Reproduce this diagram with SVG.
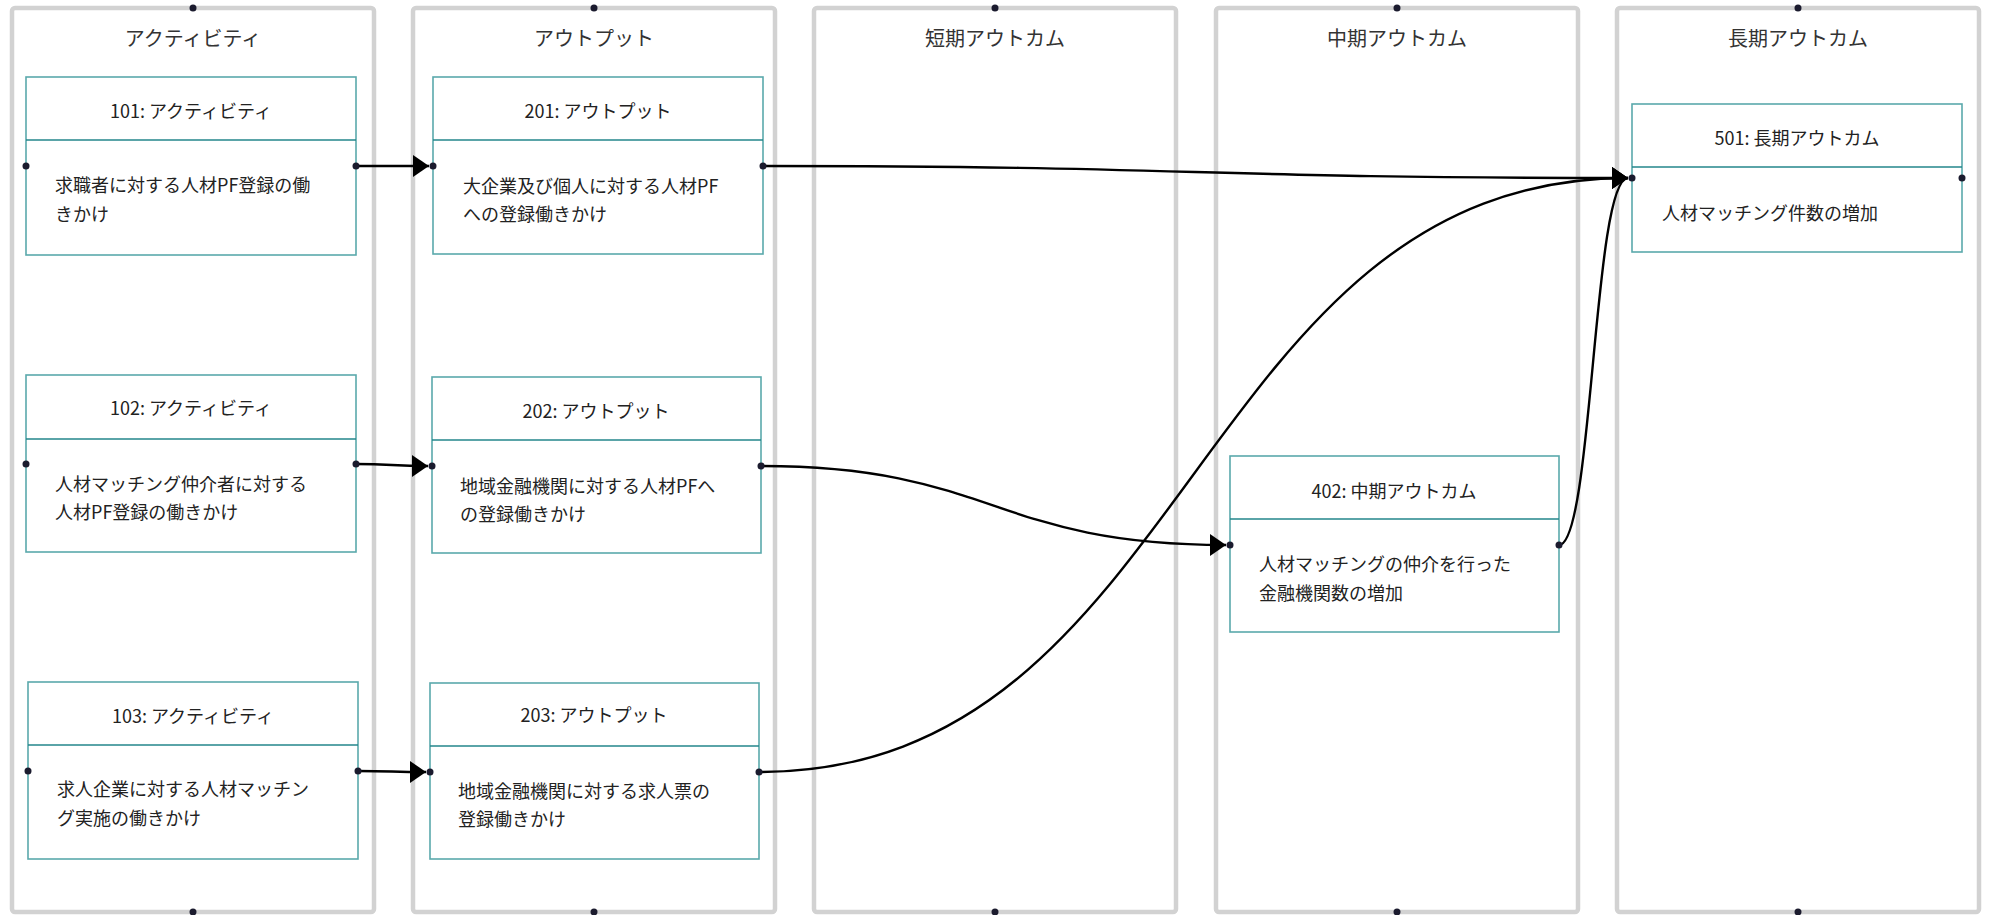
<svg xmlns="http://www.w3.org/2000/svg" width="1989" height="915" viewBox="0 0 1989 915">
<style>
.lane{fill:#ffffff;stroke:#d2d2d2;stroke-width:4.5}
.lt{font-family:"Noto Sans CJK JP","Noto Sans",sans-serif;font-size:20px;fill:#333;text-anchor:middle;dominant-baseline:central}
.box{fill:#ffffff;stroke:#5aa9ac;stroke-width:1.6}
.div{stroke:#23868b;stroke-width:1.6}
.hd{font-family:"Noto Sans CJK JP","Noto Sans",sans-serif;font-size:18px;fill:#222;text-anchor:middle;dominant-baseline:central}
.bd{font-family:"Noto Sans CJK JP","Noto Sans",sans-serif;font-size:18px;fill:#222;dominant-baseline:central}
.dot{fill:#1b1b2e}
.edge{fill:none;stroke:#000;stroke-width:2.4;marker-end:url(#arr)}
</style>
<defs>
<marker id="arr" markerUnits="userSpaceOnUse" markerWidth="20" markerHeight="24" refX="16" refY="11" orient="auto">
<path d="M0,0 L16,11 L0,22 z" fill="#000"/>
</marker>
</defs>
<rect width="1989" height="915" fill="#ffffff"/>
<g id="lanes">
<g id="lane-activity"><rect class="lane" x="12" y="8" width="362" height="904" rx="3"/><text class="lt" x="193" y="37">アクティビティ</text><circle class="dot" cx="193" cy="8" r="3.5"/><circle class="dot" cx="193" cy="912" r="3.5"/></g>
<g id="lane-output"><rect class="lane" x="413" y="8" width="362" height="904" rx="3"/><text class="lt" x="594" y="37">アウトプット</text><circle class="dot" cx="594" cy="8" r="3.5"/><circle class="dot" cx="594" cy="912" r="3.5"/></g>
<g id="lane-short"><rect class="lane" x="814" y="8" width="362" height="904" rx="3"/><text class="lt" x="995" y="37">短期アウトカム</text><circle class="dot" cx="995" cy="8" r="3.5"/><circle class="dot" cx="995" cy="912" r="3.5"/></g>
<g id="lane-mid"><rect class="lane" x="1216" y="8" width="362" height="904" rx="3"/><text class="lt" x="1397" y="37">中期アウトカム</text><circle class="dot" cx="1397" cy="8" r="3.5"/><circle class="dot" cx="1397" cy="912" r="3.5"/></g>
<g id="lane-long"><rect class="lane" x="1617" y="8" width="362" height="904" rx="3"/><text class="lt" x="1798" y="37">長期アウトカム</text><circle class="dot" cx="1798" cy="8" r="3.5"/><circle class="dot" cx="1798" cy="912" r="3.5"/></g>
</g>
<g id="n101"><rect class="box" x="26" y="77" width="330" height="178"/><line class="div" x1="26" y1="140" x2="356" y2="140"/><text class="hd" x="191" y="110">101: アクティビティ</text><text class="bd" x="55" y="184">求職者に対する人材PF登録の働</text><text class="bd" x="55" y="213">きかけ</text></g>
<g id="n102"><rect class="box" x="26" y="375" width="330" height="177"/><line class="div" x1="26" y1="439" x2="356" y2="439"/><text class="hd" x="191" y="407">102: アクティビティ</text><text class="bd" x="55" y="483">人材マッチング仲介者に対する</text><text class="bd" x="55" y="511">人材PF登録の働きかけ</text></g>
<g id="n103"><rect class="box" x="28" y="682" width="330" height="177"/><line class="div" x1="28" y1="745" x2="358" y2="745"/><text class="hd" x="193" y="715">103: アクティビティ</text><text class="bd" x="57" y="788">求人企業に対する人材マッチン</text><text class="bd" x="57" y="817">グ実施の働きかけ</text></g>
<g id="n201"><rect class="box" x="433" y="77" width="330" height="177"/><line class="div" x1="433" y1="140" x2="763" y2="140"/><text class="hd" x="598" y="110">201: アウトプット</text><text class="bd" x="463" y="185">大企業及び個人に対する人材PF</text><text class="bd" x="463" y="213">への登録働きかけ</text></g>
<g id="n202"><rect class="box" x="432" y="377" width="329" height="176"/><line class="div" x1="432" y1="440" x2="761" y2="440"/><text class="hd" x="596" y="410">202: アウトプット</text><text class="bd" x="460" y="485">地域金融機関に対する人材PFへ</text><text class="bd" x="460" y="513">の登録働きかけ</text></g>
<g id="n203"><rect class="box" x="430" y="683" width="329" height="176"/><line class="div" x1="430" y1="746" x2="759" y2="746"/><text class="hd" x="594" y="714">203: アウトプット</text><text class="bd" x="458" y="790">地域金融機関に対する求人票の</text><text class="bd" x="458" y="818">登録働きかけ</text></g>
<g id="n402"><rect class="box" x="1230" y="456" width="329" height="176"/><line class="div" x1="1230" y1="519" x2="1559" y2="519"/><text class="hd" x="1394" y="490">402: 中期アウトカム</text><text class="bd" x="1259" y="563">人材マッチングの仲介を行った</text><text class="bd" x="1259" y="592">金融機関数の増加</text></g>
<g id="n501"><rect class="box" x="1632" y="104" width="330" height="148"/><line class="div" x1="1632" y1="167" x2="1962" y2="167"/><text class="hd" x="1797" y="137">501: 長期アウトカム</text><text class="bd" x="1662" y="212">人材マッチング件数の増加</text></g>
<g id="connectors">
<path class="edge" d="M356,166 C393,166 393,166 429,166"/>
<path class="edge" d="M356,464 C392,464 392,466 428,466"/>
<path class="edge" d="M358,771 C392,771 392,772 426,772"/>
<path class="edge" d="M763,166 C1195,166 1195,178 1628,178"/>
<path class="edge" d="M761,466 C993,466 993,545 1226,545"/>
<path class="edge" d="M759,772 C1193,772 1193,178 1628,178"/>
<path class="edge" d="M1559,545 C1593,545 1593,178 1628,178"/>
</g>
<g id="ports">
<circle class="dot" cx="26" cy="166" r="3.5"/><circle class="dot" cx="356" cy="166" r="3.5"/>
<circle class="dot" cx="26" cy="464" r="3.5"/><circle class="dot" cx="356" cy="464" r="3.5"/>
<circle class="dot" cx="28" cy="771" r="3.5"/><circle class="dot" cx="358" cy="771" r="3.5"/>
<circle class="dot" cx="433" cy="166" r="3.5"/><circle class="dot" cx="763" cy="166" r="3.5"/>
<circle class="dot" cx="432" cy="466" r="3.5"/><circle class="dot" cx="761" cy="466" r="3.5"/>
<circle class="dot" cx="430" cy="772" r="3.5"/><circle class="dot" cx="759" cy="772" r="3.5"/>
<circle class="dot" cx="1230" cy="545" r="3.5"/><circle class="dot" cx="1559" cy="545" r="3.5"/>
<circle class="dot" cx="1632" cy="178" r="3.5"/><circle class="dot" cx="1962" cy="178" r="3.5"/>
</g>
</svg>
